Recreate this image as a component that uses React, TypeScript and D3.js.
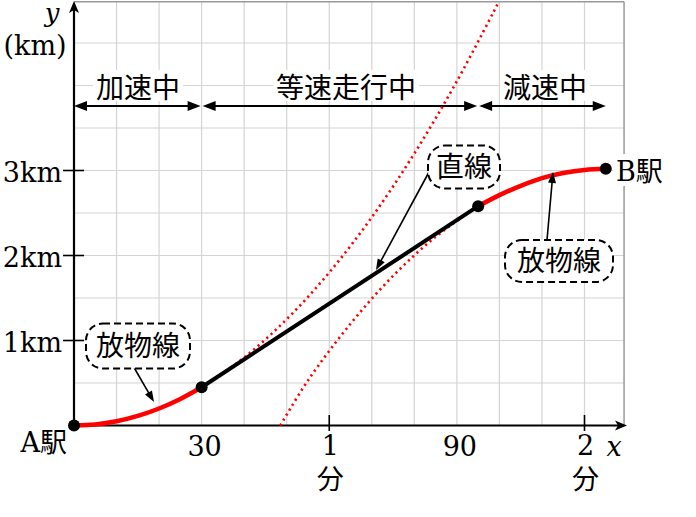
import React from "react";
import * as d3 from "d3";

// ---- data (seconds, km) ----
const accelT = [0, 5, 10, 15, 20, 25, 30];
const accelY = [0, 0.0125, 0.05, 0.1125, 0.2, 0.3125, 0.45];
const linearT = [30, 95];
const linearY = [0.45, 2.58];
const decelT = [95, 100, 105, 110, 115, 120, 125];
const decelY = [2.58, 2.71, 2.82, 2.91, 2.97, 3.007, 3.02];
const extAT = [30, 40, 50, 60, 70, 80, 90, 99.8];
const extAY = [0.45, 0.8, 1.25, 1.8, 2.45, 3.2, 4.05, 4.98];
const extBT = [48.5, 55, 65, 75, 85, 95];
const extBY = [0, 0.53, 1.197, 1.76, 2.22, 2.58];
const phaseStart = [0, 30, 95];
const phaseEnd = [30, 95, 125];
const phaseLabels = ["加速中", "等速走行中", "減速中"];
const yTicks = [1, 2, 3];
const yTickLabels = ["1km", "2km", "3km"];
const xNumTicks = [30, 90];
const xMinTicks = [60, 120];
const xMinLabels = ["1", "2"];
const gridX = d3.range(10, 130, 10);
const gridY = d3.range(0.5, 5, 0.5);

const W = 696;
const H = 517;
const SERIF = "'DejaVu Serif', 'Liberation Serif', serif";
const CJK = "'Noto Sans CJK JP', 'Noto Sans', sans-serif";

const x = d3.scaleLinear().domain([0, 120]).range([74, 584.5]);
const y = d3.scaleLinear().domain([0, 5]).range([425.5, 0.5]);

const zip = (a: number[], b: number[]) => a.map((t, i) => [t, b[i]] as [number, number]);
const line = d3
  .line<[number, number]>()
  .x((d) => x(d[0]))
  .y((d) => y(d[1]))
  .curve(d3.curveCatmullRom);

function Head({ tx, ty, dir, len = 12, half = 5, notch = 0 }: any) {
  const c = Math.cos(dir), s = Math.sin(dir);
  const p = (a: number, b: number) => [tx - a * c - b * -s, ty - a * s - b * c];
  const pts = [p(0, 0), p(len, half), p(len - notch, 0), p(len, -half)];
  return <path d={"M" + pts.map((q) => q.join(",")).join("L") + "Z"} fill="#000" />;
}

function Leader({ x1, y1, x2, y2 }: any) {
  const dir = Math.atan2(y2 - y1, x2 - x1);
  return (
    <g>
      <line x1={x1} y1={y1} x2={x2 - 8 * Math.cos(dir)} y2={y2 - 8 * Math.sin(dir)} stroke="#000" strokeWidth={1.6} />
      <Head tx={x2} ty={y2} dir={dir} len={11} half={4} />
    </g>
  );
}

function DashBox({ cx, cy, w, h, text }: any) {
  return (
    <g>
      <rect x={cx - w / 2} y={cy - h / 2} width={w} height={h} rx={17} ry={17} fill="#fff" stroke="#000" strokeWidth={2} strokeDasharray="7 4" />
      <text x={cx} y={cy + 10} textAnchor="middle" fontFamily={CJK} fontSize={28} fill="#000">{text}</text>
    </g>
  );
}

export default function App() {
  const x0 = x(0);
  const y0 = y(0);
  const xRight = x(129.3);
  const yTop = y(4.985);
  const arrowY = 106;
  const labelCx = [138, 346, 545];
  const labelW = [90, 146, 90];

  return (
    <svg width={W} height={H} style={{ position: "absolute", left: 0, top: 0, background: "#fff" }}>
      {/* grid */}
      {gridX.map((g) => (
        <line key={"gx" + g} x1={x(g)} x2={x(g)} y1={yTop} y2={y0} stroke="#d4d4d4" strokeWidth={1.2} />
      ))}
      {gridY.map((g) => (
        <line key={"gy" + g} x1={x0} x2={xRight} y1={y(g)} y2={y(g)} stroke="#d4d4d4" strokeWidth={1.2} />
      ))}
      <line x1={x0} x2={xRight} y1={yTop} y2={yTop} stroke="#999" strokeWidth={1.5} />
      <line x1={xRight} x2={xRight} y1={yTop} y2={y0} stroke="#999" strokeWidth={1.5} />

      {/* phase labels with white backgrounds */}
      {phaseLabels.map((l, i) => (
        <g key={l}>
          <rect x={labelCx[i] - labelW[i] / 2} y={70} width={labelW[i]} height={31} fill="#fff" />
          <text x={labelCx[i]} y={98} textAnchor="middle" fontFamily={CJK} fontSize={28} fill="#000">{l}</text>
        </g>
      ))}
      {/* phase arrows */}
      {phaseStart.map((s, i) => {
        const a = x(s) + (i > 0 ? 1 : 0);
        const b = x(phaseEnd[i]) - (i < 2 ? 1 : 0);
        return (
          <g key={"pa" + i}>
            <line x1={a + 6} x2={b - 6} y1={arrowY} y2={arrowY} stroke="#000" strokeWidth={2} />
            <Head tx={a} ty={arrowY} dir={Math.PI} len={13} half={5} />
            <Head tx={b} ty={arrowY} dir={0} len={13} half={5} />
          </g>
        );
      })}

      {/* B label white bg */}
      <rect x={613} y={154} width={60} height={32} fill="#fff" />

      {/* axes */}
      <line x1={x0} x2={620} y1={y0} y2={y0} stroke="#000" strokeWidth={2.2} />
      <Head tx={627} ty={y0} dir={0} len={12} half={5} notch={3} />
      <line x1={x0} x2={x0} y1={y0} y2={8} stroke="#000" strokeWidth={2.2} />
      <Head tx={x0} ty={1} dir={-Math.PI / 2} len={12} half={5} notch={3} />

      {yTicks.map((t, i) => (
        <g key={"yt" + t}>
          <line x1={63} x2={84} y1={y(t)} y2={y(t)} stroke="#000" strokeWidth={1.6} />
          <text x={62} y={y(t) + 11} textAnchor="end" fontFamily={SERIF} fontSize={27} fill="#000">{yTickLabels[i]}</text>
        </g>
      ))}
      {xNumTicks.map((t) => (
        <text key={"xn" + t} x={x(t) + 3} y={456} textAnchor="middle" fontFamily={SERIF} fontSize={27} fill="#000">{t}</text>
      ))}
      {xMinTicks.map((t, i) => (
        <g key={"xm" + t}>
          <line x1={x(t)} x2={x(t)} y1={415} y2={431} stroke="#000" strokeWidth={1.6} />
          <text x={x(t) + 1} y={455} textAnchor="middle" fontFamily={SERIF} fontSize={27} fill="#000">{xMinLabels[i]}</text>
          <text x={x(t) + 1} y={489} textAnchor="middle" fontFamily={CJK} fontSize={27} fill="#000">分</text>
        </g>
      ))}
      <text x={614} y={456} textAnchor="middle" fontFamily={SERIF} fontStyle="italic" fontSize={27} fill="#000">x</text>
      <text x={52} y={22} textAnchor="middle" fontFamily={SERIF} fontStyle="italic" fontSize={26} fill="#000">y</text>
      <text x={35} y={55} textAnchor="middle" fontFamily={SERIF} fontSize={27} fill="#000">(km)</text>

      {/* stations */}
      <text x={67} y={452} textAnchor="end" fill="#000">
        <tspan fontFamily={SERIF} fontSize={27}>A</tspan>
        <tspan fontFamily={CJK} fontSize={27}>駅</tspan>
      </text>
      <text x={616} y={181} textAnchor="start" fill="#000">
        <tspan fontFamily={SERIF} fontSize={27}>B</tspan>
        <tspan fontFamily={CJK} fontSize={27}>駅</tspan>
      </text>

      {/* dotted parabola extensions */}
      <path d={line(zip(extAT, extAY)) || ""} fill="none" stroke="#ff0000" strokeWidth={2.6} strokeDasharray="2.2 3.6" />
      <path d={line(zip(extBT, extBY)) || ""} fill="none" stroke="#ff0000" strokeWidth={2.6} strokeDasharray="2.2 3.6" />

      {/* curves */}
      <path d={line(zip(accelT, accelY)) || ""} fill="none" stroke="#ff0000" strokeWidth={4.5} />
      <path d={line(zip(decelT, decelY)) || ""} fill="none" stroke="#ff0000" strokeWidth={4.5} />
      <path d={line(zip(linearT, linearY)) || ""} fill="none" stroke="#000" strokeWidth={4} />

      {/* points */}
      {[
        [accelT[0], accelY[0]],
        [linearT[0], linearY[0]],
        [linearT[1], linearY[1]],
        [decelT[decelT.length - 1], decelY[decelY.length - 1]],
      ].map((p, i) => (
        <circle key={"pt" + i} cx={x(p[0])} cy={y(p[1])} r={6} fill="#000" />
      ))}

      {/* annotations */}
      <Leader x1={132} y1={364} x2={154} y2={402} />
      <DashBox cx={138} cy={346} w={104} h={45} text="放物線" />
      <Leader x1={429} y1={172} x2={376} y2={270} />
      <DashBox cx={464} cy={167} w={72} h={43} text="直線" />
      <Leader x1={547} y1={240} x2={553} y2={172} />
      <DashBox cx={559} cy={261} w={108} h={42} text="放物線" />
    </svg>
  );
}
